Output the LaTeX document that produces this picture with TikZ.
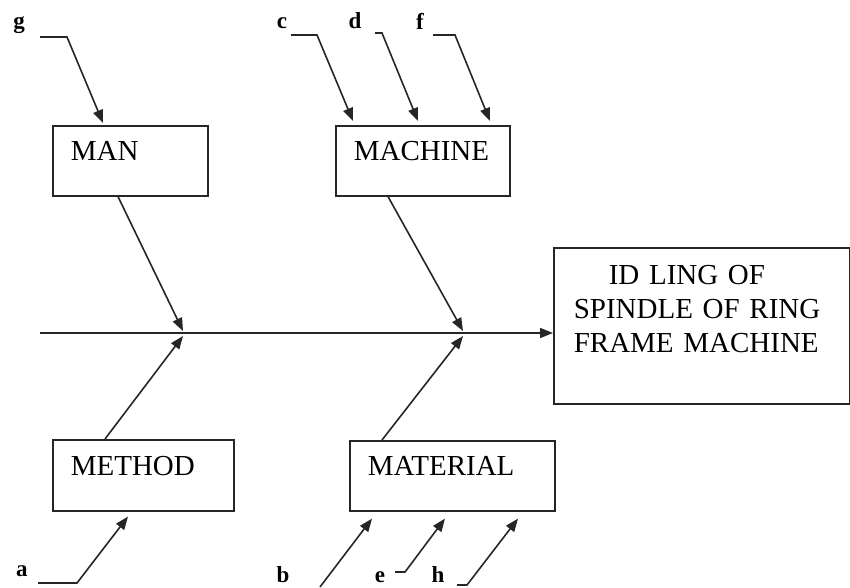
\documentclass[tikz,border=0pt]{standalone}
\usepackage{fontspec}
\setmainfont{Liberation Serif}
\usetikzlibrary{arrows.meta,calc}
\begin{document}
\begin{tikzpicture}[x=1pt,y=-1pt,
  box/.style={draw=black!85, line width=1.6pt, rectangle, anchor=north west, inner ysep=0pt, align=left, font=\fontsize{29}{34}\selectfont},
  smallbox/.style={box, text height=19pt, text depth=19pt, inner xsep=18pt},
  lab/.style={font=\fontsize{23}{23}\bfseries\selectfont, inner sep=0pt},
  conn/.style={draw=black!85, line width=1.6pt, -{Triangle[length=13pt,width=10pt]}}]
\useasboundingbox (0,0) rectangle (850,587);
% boxes
\node[smallbox, minimum width=155, minimum height=70, text width=119] (man) at (52,125) {MAN};
\node[smallbox, minimum width=174, minimum height=70, text width=138] (machine) at (335,125) {MACHINE};
\node[smallbox, minimum width=181, minimum height=71, text width=145] (method) at (52,439) {METHOD};
\node[smallbox, minimum width=205, minimum height=70, text width=169] (material) at (349,440) {MATERIAL};
\node[box, minimum width=296, minimum height=156, text width=256, inner xsep=20pt] (effect) at (553,247)
  {\hspace*{35pt}ID LING OF\\SPINDLE OF RING\\FRAME MACHINE\\\mbox{}};
% labels
\node[lab] (g) at (19,25) {g};
\node[lab] (c) at (282,23) {c};
\node[lab] (d) at (355,21) {d};
\node[lab] (f) at (420,21) {f};
\node[lab] (a) at (22,571) {a};
\node[lab] (b) at (283,575) {b};
\node[lab] (e) at (380,577) {e};
\node[lab] (h) at (438,575) {h};
% spine
\coordinate (tail) at (40,333);
\draw[conn] (tail) -- (tail -| effect.west);
\coordinate (j1) at (183,331);
\coordinate (j1b) at (183,336);
\coordinate (j2) at (463,331);
\coordinate (j2b) at (463,336);
% bones
\draw[conn] ($(man.south west)+(66,0)$) -- (j1);
\draw[conn] ($(machine.south west)+(53,0)$) -- (j2);
\draw[conn] ($(method.north west)+(53,0)$) -- (j1b);
\draw[conn] ($(material.north west)+(33,0)$) -- (j2b);
% leaders
\coordinate (gs) at (40,37);
\coordinate (cs) at (291,35);
\coordinate (ds) at (375,33);
\coordinate (fs) at (433,35);
\coordinate (as) at (38,583);
\coordinate (bs) at (320,587);
\coordinate (es) at (395,572);
\coordinate (hs) at (457,585);
\draw[conn] (gs) -- ++(27,0) -- ($(man.north west)+(51,-2)$);
\draw[conn] (cs) -- ++(26,0) -- ($(machine.north west)+(18,-4)$);
\draw[conn] (ds) -- ++(7,0) -- ($(machine.north west)+(83,-4)$);
\draw[conn] (fs) -- ++(22,0) -- ($(machine.north west)+(155,-4)$);
\draw[conn] (as) -- ++(39,0) -- ($(method.south west)+(76,5)$);
\draw[conn] (bs) -- ($(material.south west)+(23,7)$);
\draw[conn] (es) -- ++(10,0) -- ($(material.south west)+(96,7)$);
\draw[conn] (hs) -- ++(10,0) -- ($(material.south west)+(169,7)$);
\end{tikzpicture}
\end{document}
